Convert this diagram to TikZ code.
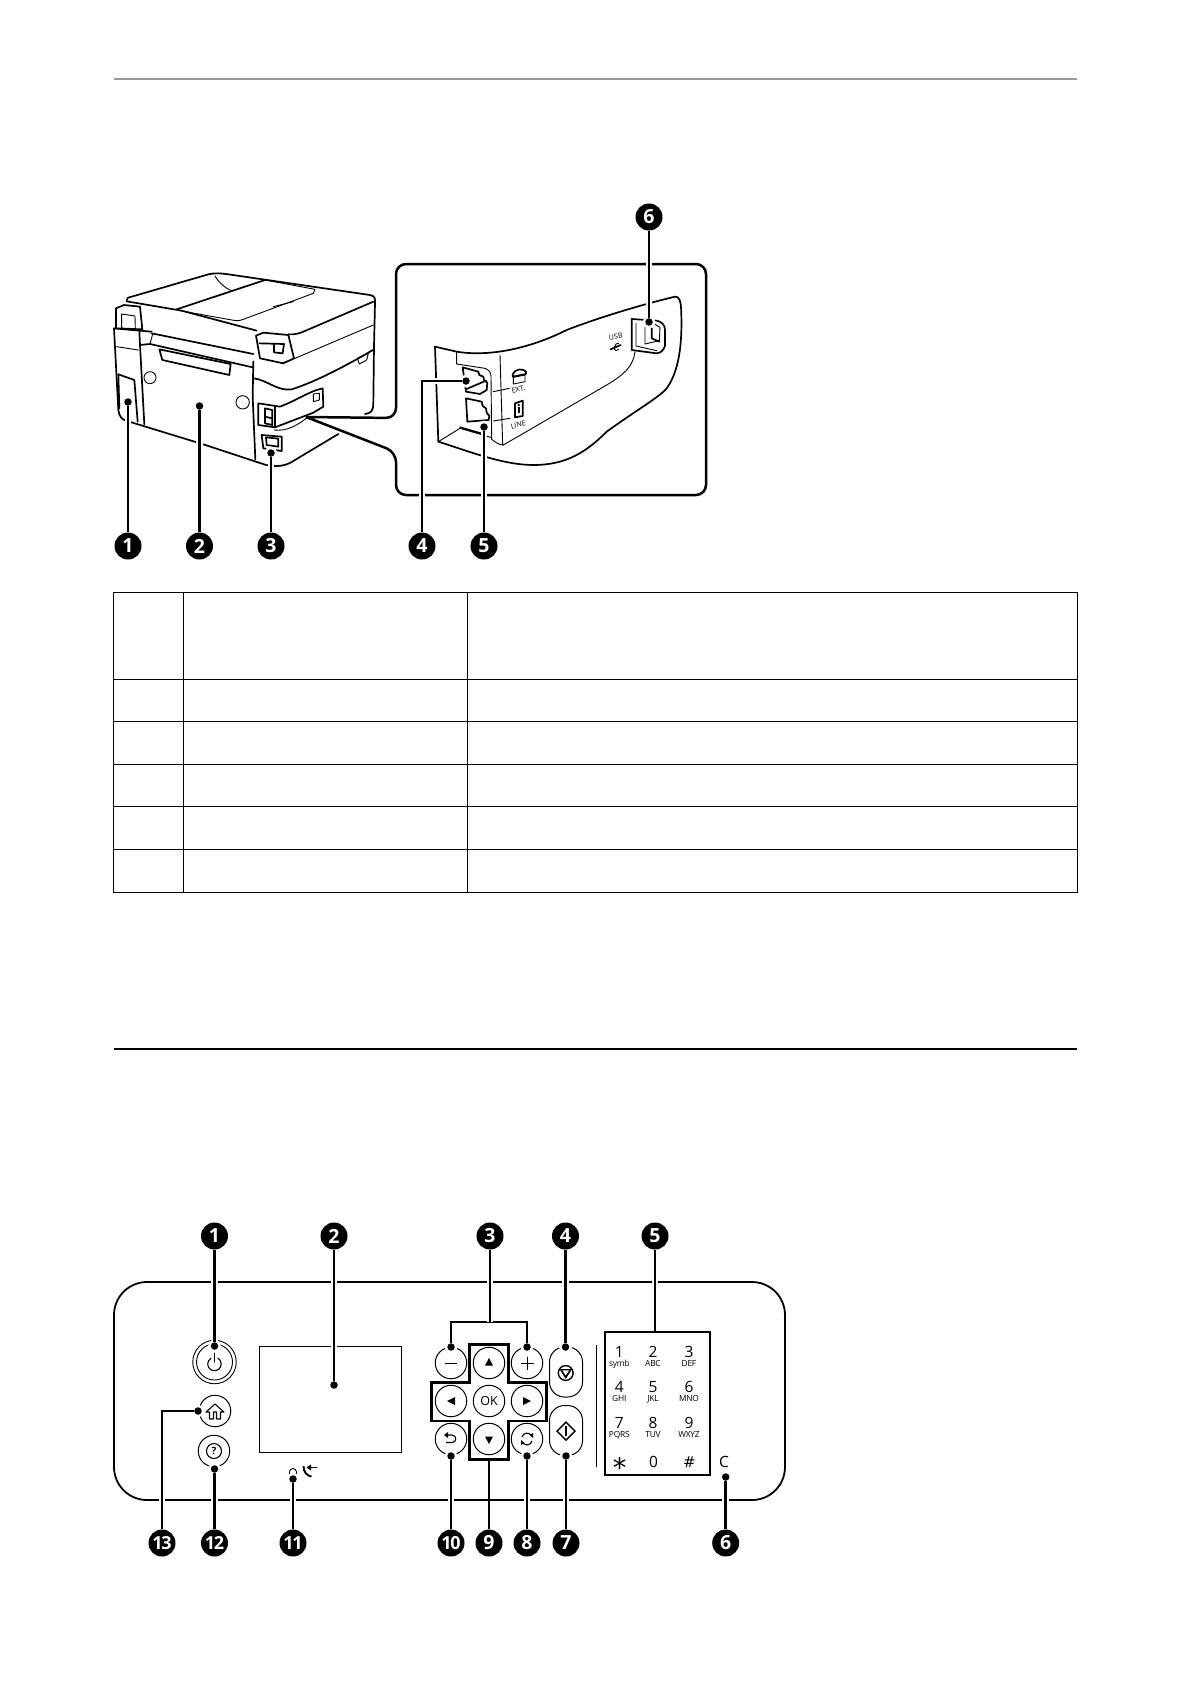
\documentclass[tikz,border=0pt]{standalone}
\usepackage{fontspec}
\setsansfont{Open Sans}
\newfontfamily\symfont{DejaVu Sans}
\usetikzlibrary{arrows.meta, positioning, calc}
\definecolor{cgrey}{HTML}{9A9A9A}
\tikzset{
  every picture/.style={font=\sffamily, line width=1pt},
  callout/.style={circle, fill=black, text=white, inner sep=0pt, minimum size=27pt,
    font=\sffamily\bfseries\fontsize{19.5}{19.5}\selectfont},
  calloutwide/.style={callout, font=\sffamily\bfseries\fontsize{18}{18}\selectfont\addfontfeature{LetterSpace=-7}},
  dot/.style={circle, fill=black, inner sep=0pt, minimum size=7.5pt,
    preaction={fill=white, draw=white, line width=5pt}},
  leader/.style={line width=2.8pt, preaction={draw=white, line width=6.5pt}},
  heavy/.style={line width=1.7pt, line join=round, line cap=round},
  light/.style={line width=0.9pt, line join=round, line cap=round},
  thickbox/.style={line width=2.6pt, line join=miter},
  btn/.style={circle, draw, line width=1pt, minimum size=31.5pt, inner sep=0pt, fill=white},
  pill/.style={draw, line width=1pt, rounded corners=15pt, minimum width=33pt, minimum height=50pt, fill=white},
  key/.style={font=\sffamily\fontsize{15.5}{15.5}\selectfont, inner sep=0pt},
  subkey/.style={font=\sffamily\fontsize{8.4}{8.4}\selectfont\addfontfeature{LetterSpace=-3}, inner sep=0pt},
  tag/.style={font=\sffamily\fontsize{7.2}{7.2}\selectfont, inner sep=0pt, rotate=14},
}
\begin{document}
\begin{tikzpicture}[x=1pt, y=-1pt]
  \useasboundingbox (0,0) rectangle (1190,1684);
  \fill[white] (0,0) rectangle (1190,1684);
  % page rules
  \draw[cgrey, line width=1.2pt] (114,79) -- (1077,79);
  \draw[line width=1.6pt] (114,1049) -- (1077,1049);
  % empty table
  \draw (113.5,592.5) rectangle (1077,892);
  \foreach \rowy in {679.5,721.5,764.5,806.5,849.5} \draw (113.5,\rowy) -- (1077,\rowy);
  \foreach \colx in {183.5,467} \draw (\colx,592.5) -- (\colx,892);

  % printer, rear view
  \begin{scope}[shift={(100,190)}, scale=1/3]
    \draw[heavy] (80,332) .. controls (78,325) and (85,322) .. (95,320) -- (325,253) .. controls (345,248) and (365,250) .. (385,253) -- (810,315) .. controls (825,318) and (826,325) .. (825,340) -- (822,470);
    \draw[heavy] (80,334) -- (245,362) -- (470,422);
    \draw[heavy] (230,358) -- (495,270);
    \draw[light] (495,270) -- (645,298) -- (640,310) -- (430,388) .. controls (415,394) and (405,392) .. (395,390) -- (240,362);
    \draw[light] (345,258) .. controls (355,275) and (375,295) .. (395,302);
    \draw[light] (520,350) -- (580,335);
    \draw[heavy] (820,335) -- (610,425) .. controls (595,432) and (580,434) .. (565,433);
    \draw[light] (820,405) -- (585,505) .. controls (575,510) and (565,512) .. (550,518);
    % left hinge
    \draw[heavy] (48,355) -- (72,345) -- (120,350) -- (127,418) -- (48,415) -- cycle;
    \draw[light] (65,372) -- (105,378) -- (106,420) -- (65,414) -- cycle;
    % body outline
    \draw[heavy] (42,415) -- (55,660) .. controls (58,680) and (65,688) .. (78,692);
    \draw[heavy] (78,692) -- (290,757);
    \draw[heavy] (310,763) -- (498,825) .. controls (530,832) and (560,828) .. (585,810) -- (715,732);
    \draw[heavy] (795,672) .. controls (815,670) and (820,660) .. (820,640) -- (822,470);
    % rear panel
    \draw[heavy] (42,415) -- (118,422) -- (155,425);
    \draw[heavy] (155,430) -- (460,492);
    \draw[heavy] (120,465) -- (150,462) -- (458,532);
    \draw[light] (150,462) -- (158,432);
    \draw[heavy] (118,422) -- (120,465) -- (133,703);
    \draw[heavy] (460,515) -- (458,620) -- (466,808);
    \draw[heavy] (178,478) -- (392,522) -- (388,555) -- (187,510) -- cycle;
    \draw[light] (150,563) circle (18);
    \draw[light] (428,637) circle (20);
    \draw[light] (50,470) -- (115,480);
    \draw[heavy] (55,553) -- (103,570) -- (113,695);
    \draw[heavy] (55,553) -- (58,655);
    % right hinge
    \draw[heavy] (468,437) -- (490,428) -- (565,435) -- (582,505) -- (550,520) -- (480,505) -- cycle;
    \draw[heavy] (478,460) -- (552,462) -- (548,490) -- (522,487) -- (522,464);
    % side of the body
    \draw[heavy] (462,565) .. controls (500,570) and (535,605) .. (575,598) .. controls (650,575) and (760,515) .. (822,478);
    \draw[light] (772,505) -- (805,490) -- (800,510) -- (778,522) -- cycle;
    % cover with the ports
    \draw[heavy] (475,640) -- (540,650) .. controls (580,635) and (620,610) .. (650,600) -- (668,595) -- (670,650) -- (640,668) -- (525,712) -- (475,705) -- cycle;
    \draw[heavy] (525,650) -- (525,712);
    \draw[heavy] (495,655) -- (517,660) -- (517,705) -- (495,700) -- cycle;
    \draw[heavy] (495,680) -- (517,685);
    \draw[light] (640,612) -- (658,610) -- (658,630) -- (640,635) -- cycle;
    \draw[light] (522,720) .. controls (560,725) and (595,705) .. (622,682);
    % power inlet
    \draw[heavy] (485,735) -- (545,740) -- (545,783) -- (490,775) -- cycle;
    \draw[heavy] (498,742) -- (535,746) -- (535,770) -- (500,765) -- cycle;
  \end{scope}

  % enlarged area
  \draw[line width=2.5pt, rounded corners=10pt, fill=white] (306,417) -- (396,418) -- (396,264) -- (706,264) -- (706,495) -- (396,495) -- (396,452) -- (306,417);
  \begin{scope}[shift={(380,190)}, scale=1/3]
    \draw[heavy, fill=white] (165,470) -- (230,485) .. controls (300,497) and (420,490) .. (560,420) .. controls (650,385) and (780,345) .. (885,320) .. controls (897,318) and (902,335) .. (903,350) .. controls (908,450) and (900,540) .. (860,595) .. controls (840,620) and (770,660) .. (680,725) .. controls (620,785) and (560,825) .. (460,825) .. controls (370,825) and (270,785) .. (175,755) -- cycle;
    \draw[light] (230,485) -- (230,522) -- (315,535) .. controls (328,540) and (333,548) .. (333,560) -- (335,748) .. controls (345,755) and (355,765) .. (370,765);
    \draw[light] (360,495) -- (368,765);
    \draw[light] (370,765) -- (680,585) .. controls (730,555) and (760,530) .. (765,485);
    \draw[light] (175,755) -- (240,715) -- (332,742);
    % telephone sockets
    \draw[heavy] (248,532) -- (295,545) -- (298,555) -- (310,560) -- (312,570) -- (322,578) -- (320,600) -- (300,612) -- (258,605) -- cycle;
    \draw[heavy] (260,597) -- (318,572);
    \draw[heavy] (258,625) -- (305,635) -- (308,648) -- (318,655) -- (320,668) -- (328,678) -- (326,690) -- (262,695) -- cycle;
    \draw[heavy] (240,712) -- (310,732);
    \draw[light] (340,605) -- (388,595);
    \draw[light] (340,693) -- (390,685);
    % little symbols
    \draw[heavy] (398,553) .. controls (405,535) and (430,535) .. (438,545) -- (438,552) -- (398,560) -- cycle;
    \draw[light] (400,562) -- (435,555) -- (435,575) -- (400,582) -- cycle;
    \draw[heavy] (405,640) -- (428,632) -- (428,678) -- (405,682) -- cycle;
    \fill (416,645) circle (4);
    \fill (413,652) rectangle (420,670);
    \draw[heavy] (692,478) -- (722,465);
    \draw[light] (702,474) -- (708,462) -- (716,460);
    \draw[light] (700,474) -- (708,482) -- (716,478);
    % USB socket
    \draw[heavy] (755,387) -- (830,392) .. controls (845,395) and (855,405) .. (855,420) -- (855,468) .. controls (850,480) and (845,488) .. (830,490) -- (755,480) -- cycle;
    \draw[light] (768,400) -- (768,468) -- (830,482);
    \draw[light] (795,398) -- (795,462) -- (838,452) -- (840,412) -- (825,403);
    \draw[heavy] (815,415) -- (815,445) -- (838,455);
    \node[tag] (tagext) at (415,598) {EXT.};
    \node[tag] (tagline) at (415,705) {LINE};
    \node[tag, rotate=-6] (tagusb) at (707,440) {USB};
  \end{scope}

  % callouts of the rear view
  \foreach \n/\dx/\dy in {a/128/402, b/199.5/406, c/271/453, d/466/381, e/484/427, f/649/322}
    \node[dot] (dot\n) at (\dx,\dy) {};
  \foreach \n/\t/\cx/\cy in {a/1/128/546, b/2/199.5/546, c/3/271/546, d/4/422/546, e/5/484/546, f/6/649/217}
    \node[callout] (num\n) at (\cx,\cy) {\t};
  \foreach \n in {a,b,c,e,f} \draw[leader] (dot\n) -- (num\n);
  \draw[leader] (dotd) -| (numd);

  % control panel
  \draw[line width=1.8pt, rounded corners=33pt] (114,1282) rectangle (785,1500);
  \node[draw, line width=0.9pt, minimum width=142pt, minimum height=106pt, inner sep=0pt] (screen) at (330,1399.5) {};
  % left buttons
  \node[circle, draw, line width=0.9pt, minimum size=43.5pt, inner sep=0pt] (powerout) at (214.5,1362) {};
  \node[circle, draw, line width=0.9pt, minimum size=36pt, inner sep=0pt] (powerin) at (214.5,1362) {};
  \draw[line width=1.1pt, line cap=round] (217.8,1358.2) arc[start angle=-60, end angle=240, radius=6.7];
  \draw[line width=1.1pt, line cap=round] (214.5,1353) -- (214.5,1362);
  \node[btn] (home) at (215,1411) {};
  \draw[line width=1.1pt, line join=round] (206,1412) -- (215,1404) -- (224,1412) -- (220.5,1412) -- (220.5,1419) -- (216.5,1419) -- (216.5,1412) -- (213.5,1412) -- (213.5,1419) -- (209.5,1419) -- (209.5,1412) -- cycle;
  \node[btn] (help) at (214,1451) {};
  \node[circle, draw, line width=1.1pt, minimum size=15pt, inner sep=0pt, font=\sffamily\bfseries\fontsize{10}{10}\selectfont] (helpmark) at (214,1451) {?};
  % fax light
  \draw[line width=0.9pt] (289.5,1475) -- (289.5,1472) arc[start angle=180, end angle=360, radius=3.5] -- (296.5,1475);
  \draw[line width=1.9pt] (303.5,1466) .. controls (303.5,1472) and (307,1476) .. (311.5,1476.5);
  \draw[line width=1pt] (317,1467.5) -- (310,1467.5);
  \fill (306.5,1467.5) -- (311,1464.5) -- (311,1470.5) -- cycle;
  % cross of the arrow keys
  \draw[thickbox] (469.3,1344.3) -- (508.7,1344.3) -- (508.7,1382.3) -- (546.7,1382.3) -- (546.7,1421) -- (508.7,1421) -- (508.7,1459.3) -- (469.3,1459.3) -- (469.3,1421) -- (431.7,1421) -- (431.7,1382.3) -- (469.3,1382.3) -- cycle;
  \foreach \n/\bx/\by in {minus/451/1363, plus/527/1363, up/489/1363, left/451/1401, right/527/1401, back/451/1439, down/489/1439, again/527/1439}
    \node[btn] (\n) at (\bx,\by) {};
  \node[btn, font=\sffamily\fontsize{12.5}{12.5}\selectfont] (okkey) at (489,1401) {OK};
  \draw[line width=0.9pt] (445,1363) -- (457,1363);
  \draw[line width=0.9pt] (520.5,1363) -- (533.5,1363) (527,1356.5) -- (527,1369.5);
  \fill (489,1358) -- (485,1365.5) -- (493,1365.5) -- cycle;
  \fill (489,1444) -- (485,1436.5) -- (493,1436.5) -- cycle;
  \fill (447,1401) -- (455,1397) -- (455,1405) -- cycle;
  \fill (531,1401) -- (523,1397) -- (523,1405) -- cycle;
  \draw[line width=1.1pt] (447,1435) -- (452,1435) .. controls (457,1435) and (457,1442.5) .. (452,1442.5) -- (446,1442.5);
  \fill (444,1435) -- (448,1432) -- (448,1438) -- cycle;
  \draw[line width=1.1pt] (522,1437) .. controls (523,1432.5) and (529,1432) .. (531,1435);
  \draw[line width=1.1pt] (532,1441) .. controls (531,1445.5) and (525,1446) .. (523,1443);
  \fill (533,1438) -- (529.5,1435) -- (533,1433) -- cycle;
  \fill (521,1440) -- (524.5,1443) -- (521,1445) -- cycle;
  % stop and start
  \node[pill] (stop) at (566,1372) {};
  \node[pill] (start) at (566,1430.5) {};
  \draw[line width=1.4pt] (565.7,1373) circle (7.4);
  \fill (565.7,1379) -- (559.5,1369) -- (572,1369) -- cycle;
  \fill[white] (565.7,1375.5) -- (562.4,1370.4) -- (569,1370.4) -- cycle;
  \draw[line width=1.4pt, line join=miter] (566,1422) -- (575,1431) -- (566,1440) -- (557,1431) -- cycle;
  \draw[line width=1.4pt] (566,1426) -- (566,1436);
  \draw[line width=0.8pt] (596,1345) -- (596,1467);
  % keypad
  \node[draw, thickbox, minimum width=105pt, minimum height=143pt, inner sep=0pt] (keypad) at (657.5,1403.5) {};
  \foreach \n/\t/\s/\kx/\ky in {1/1/symb/619.3/1352, 2/2/ABC/653/1352, 3/3/DEF/689/1352, 4/4/GHI/619.3/1387, 5/5/JKL/653/1387, 6/6/MNO/689/1387, 7/7/PQRS/619.3/1423, 8/8/TUV/653/1423, 9/9/WXYZ/689/1423} {
    \node[key] (key\n) at (\kx,\ky) {\t};
    \node[subkey, below=2.5pt of key\n.base] (sub\n) {\s};
  }
  \node[key, font=\symfont\fontsize{27}{27}\selectfont] (keystar) at (619.5,1467.5) {*};
  \node[key] (keyzero) at (653.5,1462) {0};
  \node[key, font=\symfont\fontsize{15}{15}\selectfont] (keyhash) at (689.5,1462) {\#};
  \node[key] (keyclear) at (724,1462) {C};

  % callouts of the control panel
  \foreach \n/\dx/\dy in {a/214.5/1346, b/334/1385, ca/451/1347, cb/527/1347, d/565.5/1347, f/725.7/1477, g/566/1456, h/527/1456, j/451/1456, k/293/1479, l/214.5/1469, m/198/1411}
    \node[dot] (pdot\n) at (\dx,\dy) {};
  \foreach \n/\t/\cx/\cy in {a/1/214.5/1236, b/2/334/1236, c/3/490/1236, d/4/565.5/1236, e/5/655/1236, f/6/725.7/1543, g/7/566/1543, h/8/527/1543, i/9/489/1543}
    \node[callout] (pnum\n) at (\cx,\cy) {\t};
  \foreach \n/\t/\cx/\cy in {j/10/451/1543, k/11/293/1543, l/12/214.5/1543, m/13/162/1543}
    \node[calloutwide] (pnum\n) at (\cx,\cy) {\t};
  \foreach \n in {a,b,d,f,g,h,j,k,l} \draw[leader] (pdot\n) -- (pnum\n);
  \draw[leader] (pdotm) -| (pnumm);
  \coordinate (brace) at (490,1322);
  \draw[leader] (pdotca) |- (brace) -| (pdotcb);
  \draw[leader] (brace) -- (pnumc);
  \draw[leader] (pnume) -- (pnume |- keypad.north);
  \draw[line width=2.8pt] (pnumi) -- (489,1459.3);
\end{tikzpicture}
\end{document}
